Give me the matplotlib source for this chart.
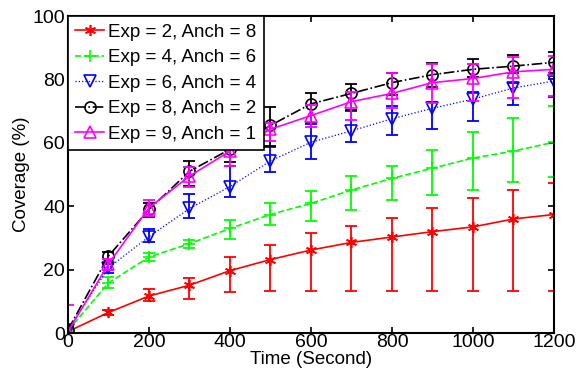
import numpy as np
import matplotlib
matplotlib.use("Agg")
import matplotlib.pyplot as plt

plt.rcParams["font.family"] = ["Liberation Sans", "DejaVu Sans"]

# ── data (coverage %, asymmetric min/max bars) ──
TIME = [0, 100, 200, 300, 400, 500, 600, 700, 800, 900, 1000, 1100, 1200]

red_y = [0.5, 6.5, 11.7, 15.1, 19.7, 23.2, 26.2, 28.6, 30.3, 32.0, 33.5, 36.0, 37.4]
red_lo = [0, 5.8, 10.0, 10.7, 13.0, 13.2, 13.2, 13.2, 13.2, 13.2, 13.2, 13.2, 13.2]
red_hi = [1.0, 7.2, 13.9, 17.4, 24.1, 27.8, 31.5, 33.8, 36.4, 39.4, 42.7, 45.1, 47.3]

green_y = [0.8, 15.8, 24.0, 28.2, 33.0, 37.4, 40.9, 45.1, 48.8, 52.0, 55.2, 57.4, 60.2]
green_lo = [0, 14.1, 22.8, 26.9, 29.7, 34.1, 35.3, 38.8, 42.0, 43.5, 45.1, 47.7, 49.3]
green_hi = [1.5, 17.8, 25.2, 29.5, 35.6, 40.9, 44.8, 49.5, 52.8, 57.8, 63.5, 67.7, 71.6]

blue_y = [1.0, 20.6, 30.4, 39.3, 46.2, 54.3, 60.2, 63.8, 67.6, 70.9, 73.8, 77.3, 79.5]
blue_lo = [0, 19.0, 28.8, 36.4, 43.0, 50.9, 54.9, 60.3, 62.5, 64.4, 66.9, 72.0, 74.5]
blue_hi = [2.0, 21.8, 32.7, 43.9, 52.8, 58.8, 66.0, 70.0, 71.5, 73.0, 76.0, 79.0, 81.0]

black_y = [1.0, 24.3, 39.0, 51.0, 58.0, 65.5, 72.3, 75.6, 79.0, 81.5, 83.2, 84.2, 85.4]
black_lo = [0, 22.0, 36.5, 46.4, 54.0, 59.0, 66.2, 70.3, 75.0, 77.7, 80.9, 81.9, 82.0]
black_hi = [2.0, 25.7, 41.0, 54.3, 60.9, 71.2, 75.6, 78.5, 81.9, 85.1, 86.3, 87.7, 88.7]

mag_y = [0.5, 21.8, 39.5, 49.5, 57.4, 64.3, 68.6, 73.0, 75.6, 79.0, 80.3, 82.4, 83.2]
mag_lo = [0, 20.0, 37.0, 46.0, 52.7, 60.7, 65.0, 67.2, 70.9, 72.5, 73.2, 74.3, 74.8]
mag_hi = [8.8, 23.3, 42.0, 52.5, 60.3, 66.3, 72.0, 76.0, 81.9, 85.0, 84.9, 87.0, 87.4]

LABELS = ["Exp = 2, Anch = 8", "Exp = 4, Anch = 6", "Exp = 6, Anch = 4",
          "Exp = 8, Anch = 2", "Exp = 9, Anch = 1"]

SERIES = [
    (red_y, red_lo, red_hi, "#FF0000", "-", (6, 2, 0), 8),
    (green_y, green_lo, green_hi, "#00FF00", "--", "+", 8),
    (blue_y, blue_lo, blue_hi, "#0000FF", ":", "v", 9),
    (black_y, black_lo, black_hi, "black", "-.", "o", 8),
    (mag_y, mag_lo, mag_hi, "#FF00FF", "-", "^", 9),
]

fig = plt.figure(figsize=(5.79, 3.73), dpi=100)
ax = fig.add_axes([0.1174, 0.107, 0.8394, 0.850])

x = np.array(TIME)
for (y, lo, hi, col, ls, mk, ms), lab in zip(SERIES, LABELS):
    y = np.array(y); lo = np.array(lo); hi = np.array(hi)
    yerr = [y - lo, hi - y]
    ax.errorbar(x, y, yerr=yerr, fmt="none", ecolor=col, elinewidth=1.3,
                capsize=4, capthick=1.3)
    lw = 0.9 if ls == ":" else 1.2
    ax.plot(x, y, linestyle=ls, color=col, lw=lw, marker=mk, ms=ms,
            mfc="none" if mk in ("v", "o", "^") else col, mec=col, mew=1.2,
            label=lab)

ax.set_xlim(0, 1200)
ax.set_ylim(0, 100)
ax.set_xticks(range(0, 1201, 200))
ax.set_yticks(range(0, 101, 20))
ax.tick_params(direction="in", top=True, right=True, labelsize=14, length=4,
               width=1.2)
ax.tick_params(axis="x", pad=1)
ax.tick_params(axis="y", pad=2)
for s in ax.spines.values():
    s.set_linewidth(1.5)
ax.set_xlabel("Time (Second)", fontsize=13.5, labelpad=0)
ax.set_ylabel("Coverage (%)", fontsize=13.5, labelpad=2)

leg = ax.legend(loc="upper left", fontsize=13.5, borderaxespad=0, handlelength=1.5,
                labelspacing=0.45, handletextpad=0.25, borderpad=0.4,
                fancybox=False, framealpha=1)
leg.get_frame().set_edgecolor("black")
leg.get_frame().set_linewidth(1.2)

fig.savefig("out.png", dpi=100)
